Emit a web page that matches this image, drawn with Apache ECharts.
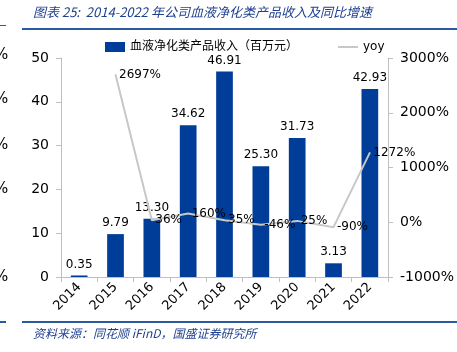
<!DOCTYPE html>
<html>
<head>
<meta charset="utf-8">
<script src="https://cdn.jsdelivr.net/npm/echarts@6/dist/echarts.min.js"></script>
<style>
  html, body { margin: 0; padding: 0; background: #fff; }
  #chart { width: 457px; height: 352px; }
</style>
</head>
<body>
<div id="chart"></div>
<script>
const years = ['2014', '2015', '2016', '2017', '2018', '2019', '2020', '2021', '2022'];
const revenue = [0.35, 9.79, 13.30, 34.62, 46.91, 25.30, 31.73, 3.13, 42.93];
const yoy = [null, 2697, 36, 160, 35, -46, 25, -90, 1272];
const leftTicks = [0, 10, 20, 30, 40, 50];
const rightTicks = [-1000, 0, 1000, 2000, 3000];

const blue = '#003d99';
const font = 'Tahoma, "DejaVu Sans", "Noto Sans CJK SC", sans-serif';

const myChart = echarts.init(document.getElementById('chart'));
const option = {
  animation: false,
  textStyle: { fontFamily: font },
  graphic: [
    {
      type: 'text', left: 33, top: 6,
      style: {
        text: '图表 25:  2014-2022 年公司血液净化类产品收入及同比增速',
        fill: '#1f3f8f', font: 'italic 13px "Noto Sans CJK SC", sans-serif'
      }
    },
    { type: 'rect', shape: { x: 22, y: 28, width: 440, height: 2 }, style: { fill: '#2c5aa0' } },
    { type: 'rect', shape: { x: 0, y: 25, width: 6, height: 1 }, style: { fill: '#2c5aa0' } },
    { type: 'rect', shape: { x: 22, y: 321, width: 440, height: 2 }, style: { fill: '#2c5aa0' } },
    { type: 'rect', shape: { x: 0, y: 321, width: 6, height: 2 }, style: { fill: '#2c5aa0' } },
    {
      type: 'text', left: 33, top: 327,
      style: {
        text: '资料来源：同花顺 iFinD，国盛证券研究所',
        fill: '#1f3f8f', font: 'italic 12px "Noto Sans CJK SC", sans-serif'
      }
    },
    { type: 'text', x: -6, y: 48, style: { text: '%', fill: '#000', font: '15px ' + font } },
    { type: 'text', x: -6, y: 92, style: { text: '%', fill: '#000', font: '15px ' + font } },
    { type: 'text', x: -6, y: 138, style: { text: '%', fill: '#000', font: '15px ' + font } },
    { type: 'text', x: -6, y: 182, style: { text: '%', fill: '#000', font: '15px ' + font } },
    { type: 'text', x: -6, y: 270, style: { text: '%', fill: '#000', font: '15px ' + font } }
  ],
  legend: {
    top: 36,
    left: 100,
    itemGap: 40,
    itemWidth: 20,
    itemHeight: 10,
    textStyle: { fontSize: 12, color: '#000' },
    data: [
      { name: '血液净化类产品收入（百万元）', icon: 'rect' },
      { name: 'yoy', icon: 'path://M0,0L20,0L20,2L0,2Z', itemStyle: { color: '#c8c8c8' } }
    ]
  },
  grid: { left: 61, right: 61, top: 58, bottom: 75 },
  xAxis: {
    type: 'category',
    data: years,
    axisLine: { lineStyle: { color: '#bfbfbf' } },
    axisTick: { show: true, lineStyle: { color: '#bfbfbf' } },
    axisLabel: { rotate: 45, color: '#000', fontSize: 13, margin: 8 }
  },
  yAxis: [
    {
      type: 'value', min: 0, max: 50, interval: 10,
      axisLine: { show: true, lineStyle: { color: '#bfbfbf' } },
      axisTick: { show: true, lineStyle: { color: '#bfbfbf' } },
      axisLabel: { color: '#000', fontSize: 14, margin: 12 },
      splitLine: { show: false }
    },
    {
      type: 'value', min: -1000, max: 3000, interval: 1000,
      axisLine: { show: true, lineStyle: { color: '#bfbfbf' } },
      axisTick: { show: true, lineStyle: { color: '#bfbfbf' } },
      axisLabel: { color: '#000', fontSize: 14, margin: 12, formatter: v => v + '%' },
      splitLine: { show: false }
    }
  ],
  series: [
    {
      name: '血液净化类产品收入（百万元）',
      type: 'bar',
      data: revenue,
      barWidth: '46%',
      itemStyle: { color: blue },
      label: {
        show: true, position: 'top', color: '#000', fontSize: 12,
        formatter: p => p.value.toFixed(2)
      }
    },
    {
      name: 'yoy',
      type: 'line',
      yAxisIndex: 1,
      data: yoy,
      symbol: 'circle',
      symbolSize: 1,
      showSymbol: true,
      lineStyle: { color: '#c8c8c8', width: 2 },
      itemStyle: { color: '#c8c8c8' },
      label: {
        show: true, position: 'right', distance: 3, color: '#000', fontSize: 12,
        formatter: p => p.value + '%'
      }
    }
  ]
};
myChart.setOption(option);
</script>
</body>
</html>
